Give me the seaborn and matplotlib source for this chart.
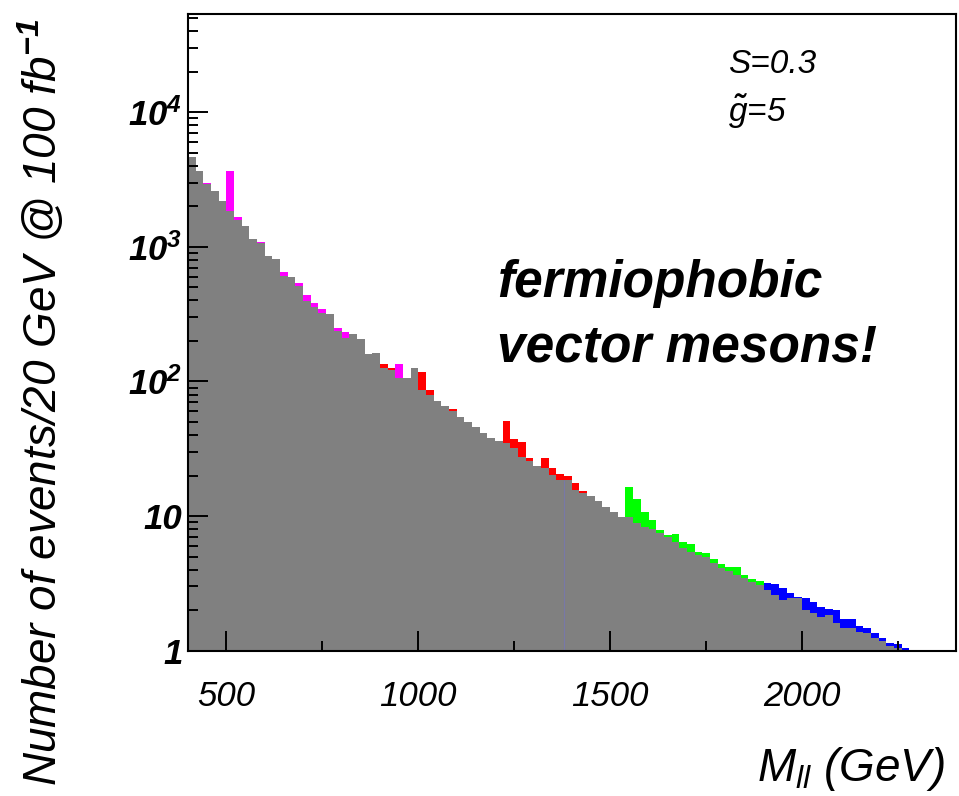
import numpy as np
import pandas as pd
import matplotlib
matplotlib.use("Agg")
import matplotlib.pyplot as plt
import seaborn as sns
from matplotlib.ticker import FixedLocator, MultipleLocator, LogLocator, NullFormatter

# Binning: 20 GeV bins from 400 to 2300 GeV
bin_edges = list(range(400, 2301, 20))

# Drell-Yan background, events per 20 GeV bin
background = [4630, 3660, 2920, 2620, 2200, 1860, 1585, 1430, 1140, 1064,
              860, 809, 611, 601, 515, 396, 356, 321, 316, 238,
              209, 224, 208, 159, 164, 127, 122, 107, 107, 125,
              86.5, 79.4, 71.6, 66.1, 60.4, 54.2, 50.2, 45.7, 41.2, 38.2,
              36.3, 35.0, 31.9, 27.6, 25.8, 23.6, 22.6, 20.2, 18.5, 18.5,
              15.6, 14.9, 14.1, 13.0, 11.7, 10.7, 9.9, 9.8, 8.84, 8.34,
              8.02, 7.45, 6.96, 6.45, 5.77, 5.44, 5.14, 4.99, 4.51, 4.09,
              3.93, 3.65, 3.45, 3.26, 3.08, 2.82, 2.59, 2.38, 2.45, 2.45,
              2.01, 1.90, 1.79, 1.84, 1.60, 1.48, 1.48, 1.38, 1.36, 1.24,
              1.19, 1.08, 1.04, 1.01, 1.02]

# Signal + background in the bins where each vector resonance contributes
rho1_bins = [440, 500, 520, 580, 640, 680, 700, 720, 740, 780, 800, 940]
rho1_total = [3000, 3660, 1675, 1093, 654, 537, 439, 385, 347, 248, 232, 135]

rho2_bins = [900, 920, 1000, 1020, 1080, 1220, 1240, 1260, 1280, 1320,
             1340, 1360, 1380, 1400, 1420]
rho2_total = [135, 127, 118, 86.5, 62.1, 50.9, 37.2, 35.7, 26.9, 26.9,
              22.6, 20.5, 19.9, 17.7, 15.4]

rho3_bins = [1540, 1560, 1580, 1600, 1620, 1640, 1660, 1680, 1700, 1720,
             1740, 1760, 1780, 1800, 1820, 1840, 1860, 1880]
rho3_total = [16.5, 13.5, 10.7, 9.35, 7.88, 7.24, 7.36, 6.45, 6.21, 5.44,
              5.35, 4.78, 4.41, 4.17, 4.17, 3.65, 3.39, 3.31]

rho4_bins = [1900, 1920, 1940, 1960, 1980, 2000, 2020, 2040, 2060, 2080,
             2100, 2120, 2140, 2160, 2180, 2200, 2220, 2240, 2260]
rho4_total = [3.20, 3.13, 2.91, 2.70, 2.52, 2.45, 2.31, 2.12, 2.03, 2.01,
              1.73, 1.73, 1.53, 1.47, 1.36, 1.24, 1.15, 1.12, 1.04]

y_ticks = [1, 10, 100, 1000, 10000]
y_ticklabels = ["1", "10", r"$10^{2}$", r"$10^{3}$", r"$10^{4}$"]
x_ticks = [500, 1000, 1500, 2000]

palette = {"rho1": "#ff00ff", "rho2": "#ff0000", "rho3": "#00ff00", "rho4": "#0000ff"}

frames = []
for name, lows, tot in [("rho1", rho1_bins, rho1_total), ("rho2", rho2_bins, rho2_total),
                        ("rho3", rho3_bins, rho3_total), ("rho4", rho4_bins, rho4_total)]:
    frames.append(pd.DataFrame({"mass": np.asarray(lows, dtype=float) + 10.0,
                                "events": np.asarray(tot, dtype=float),
                                "resonance": name}))
signal = pd.concat(frames, ignore_index=True)
bkg = pd.DataFrame({"mass": np.asarray(bin_edges[:-1], dtype=float) + 10.0,
                    "events": np.asarray(background, dtype=float)})

sns.set_style("white")
plt.rcParams["font.family"] = ["Liberation Sans", "DejaVu Sans"]
plt.rcParams["text.color"] = "black"
plt.rcParams["xtick.color"] = "black"
plt.rcParams["ytick.color"] = "black"
plt.rcParams["axes.labelcolor"] = "black"
plt.rcParams["mathtext.fontset"] = "custom"
plt.rcParams["mathtext.it"] = "Liberation Sans:italic"
plt.rcParams["mathtext.rm"] = "Liberation Sans:bold:italic"
plt.rcParams["mathtext.bf"] = "Liberation Sans:bold:italic"

W, H = 959, 796
fig = plt.figure(figsize=(W / 100, H / 100), dpi=100)
ax = fig.add_axes([188 / W, (H - 650.7) / H, (955.5 - 188) / W, (650.7 - 14) / H])
ax.set_axisbelow(False)

# Stacked totals (coloured), then the background drawn over them
sns.histplot(data=signal, x="mass", weights="events", hue="resonance",
             palette=palette, bins=bin_edges, multiple="layer", element="step",
             fill=True, alpha=1, linewidth=0, legend=False, ax=ax, zorder=1)
sns.histplot(data=bkg, x="mass", weights="events", bins=bin_edges,
             element="step", fill=True, color="#808080", alpha=1,
             linewidth=0, ax=ax, zorder=2)

i1380 = bin_edges.index(1380)
ax.vlines(1380, 1, background[i1380], colors="#7878a8", lw=0.8, zorder=3)

ax.set_yscale("log")
ax.set_xlim(400, 2400)
ax.set_ylim(1, 5.37e4)
ax.set_xlabel("")
ax.set_ylabel("")

ax.xaxis.set_major_locator(FixedLocator(x_ticks))
ax.xaxis.set_minor_locator(MultipleLocator(250))
ax.set_xticklabels([str(t) for t in x_ticks], fontsize=25, fontstyle="italic")
ax.yaxis.set_major_locator(FixedLocator(y_ticks))
ax.yaxis.set_minor_locator(LogLocator(base=10, subs=np.arange(2, 10)))
ax.yaxis.set_minor_formatter(NullFormatter())
ax.set_yticklabels(y_ticklabels, fontsize=25, fontstyle="italic", fontweight="bold")

ax.tick_params(which="both", direction="in", top=False, right=False,
               bottom=True, left=True, color="black", width=1.4, zorder=6)
ax.tick_params(which="major", length=14.5)
ax.tick_params(which="minor", length=7.5)
ax.tick_params(axis="x", which="major", pad=21)
ax.tick_params(axis="y", which="major", pad=4)
ax.xaxis.set_zorder(6)
ax.yaxis.set_zorder(6)

for sp in ax.spines.values():
    sp.set_color("black")
    sp.set_linewidth(1.5)
    sp.set_zorder(7)

fig.text(42 / W, 1 - 402 / H, r"Number of events/20 GeV @ 100 fb$^{\mathit{-1}}$",
         rotation=90, ha="center", va="center", fontsize=33, fontstyle="italic")
fig.text(945 / W, 1 - 781 / H, r"$M_{ll}$ (GeV)", ha="right", va="baseline",
         fontsize=33, fontstyle="italic")

fig.text(497 / W, 1 - 297 / H, "fermiophobic", ha="left", va="baseline",
         fontsize=37, fontstyle="italic", fontweight="bold")
fig.text(497 / W, 1 - 362 / H, "vector mesons!", ha="left", va="baseline",
         fontsize=37, fontstyle="italic", fontweight="bold")
fig.text(728 / W, 1 - 73 / H, "S=0.3", ha="left", va="baseline",
         fontsize=24, fontstyle="italic")
fig.text(728 / W, 1 - 122 / H, r"$\tilde{g}$=5", ha="left", va="baseline",
         fontsize=24, fontstyle="italic")

fig.savefig("out.png", dpi=100, facecolor="white")
